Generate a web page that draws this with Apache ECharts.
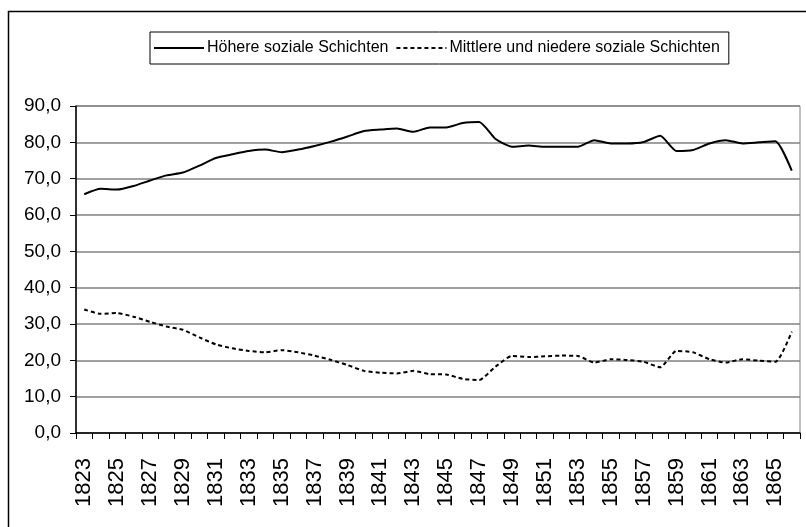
<!DOCTYPE html>
<html><head><meta charset="utf-8">
<script src="https://cdn.jsdelivr.net/npm/echarts@6/dist/echarts.min.js"></script>
<style>html,body{margin:0;padding:0;background:#fff}#c{width:806px;height:527px}</style>
</head><body><div id="c"></div>
<script>
var years = [];
for (var y = 1823; y <= 1866; y++) years.push(String(y));
var seriesNames = ['Höhere soziale Schichten', 'Mittlere und niedere soziale Schichten'];
var hoehere = [65.7, 67.2, 67.0, 68.0, 69.5, 70.9, 71.7, 73.6, 75.7, 76.7, 77.6, 78.0, 77.3, 78.0, 79.0, 80.2, 81.6, 83.1, 83.5, 83.8, 82.9, 84.1, 84.1, 85.3, 85.6, 80.9, 78.8, 79.1, 78.8, 78.8, 78.8, 80.6, 79.7, 79.7, 80.1, 81.8, 77.6, 77.9, 79.7, 80.6, 79.7, 80.0, 80.3, 72.2];
var mittlere = [34.0, 32.8, 33.0, 32.0, 30.6, 29.3, 28.4, 26.3, 24.4, 23.3, 22.6, 22.2, 22.8, 22.2, 21.3, 20.1, 18.7, 17.1, 16.6, 16.4, 17.1, 16.2, 16.1, 14.9, 14.6, 18.3, 21.2, 20.9, 21.1, 21.3, 21.2, 19.4, 20.3, 20.1, 19.6, 18.1, 22.6, 22.2, 20.3, 19.4, 20.3, 19.9, 19.6, 27.9];

var chart = echarts.init(document.getElementById('c'), null, {renderer: 'canvas'});
var font = 'Liberation Sans, Arial, sans-serif';
chart.setOption({
  animation: false,
  backgroundColor: '#fff',
  graphic: [{
    type: 'rect', left: 6, top: 9, silent: true,
    shape: {x: 0, y: 0, width: 830, height: 540},
    style: {fill: 'none', stroke: '#000', lineWidth: 1.5}
  }],
  legend: {
    left: 150, top: 32,
    padding: [8, 9, 8, 3],
    itemGap: 7,
    itemWidth: 50, itemHeight: 14,
    borderColor: '#000', borderWidth: 1,
    itemStyle: {color: 'rgba(0,0,0,0)', borderWidth: 0, borderColor: 'rgba(0,0,0,0)'},
    textStyle: {fontFamily: font, fontSize: 16, color: '#000', padding: [0, 0, 0, -2]},
    data: seriesNames
  },
  grid: {
    left: 76, right: 6, top: 106, bottom: 94,
    show: true, borderColor: '#808080', borderWidth: 1, backgroundColor: 'transparent'
  },
  xAxis: {
    type: 'category', data: years, boundaryGap: true,
    axisLine: {lineStyle: {color: '#000', width: 1.5}},
    axisTick: {show: true, interval: 0, length: 6, lineStyle: {color: '#000'}},
    axisLabel: {interval: 1, rotate: 90, color: '#000', fontFamily: font, fontSize: 22, margin: 25}
  },
  yAxis: {
    type: 'value', min: 0, max: 90, interval: 10,
    axisLine: {show: true, lineStyle: {color: '#000', width: 1.5}},
    axisTick: {show: true, length: 6, lineStyle: {color: '#000'}},
    splitLine: {lineStyle: {color: '#808080', width: 1.5}},
    axisLabel: {color: '#000', fontFamily: font, fontSize: 19, margin: 15,
      formatter: function (v) { return v.toFixed(1).replace('.', ','); }}
  },
  series: [
    {name: seriesNames[0], type: 'line', data: hoehere, symbol: 'none', smooth: 0.2,
     lineStyle: {color: '#000', width: 2}, itemStyle: {color: '#000'}},
    {name: seriesNames[1], type: 'line', data: mittlere, symbol: 'none', smooth: 0.2,
     lineStyle: {color: '#000', width: 2, type: [4, 3]}, itemStyle: {color: '#000'}}
  ]
});
</script></body></html>
